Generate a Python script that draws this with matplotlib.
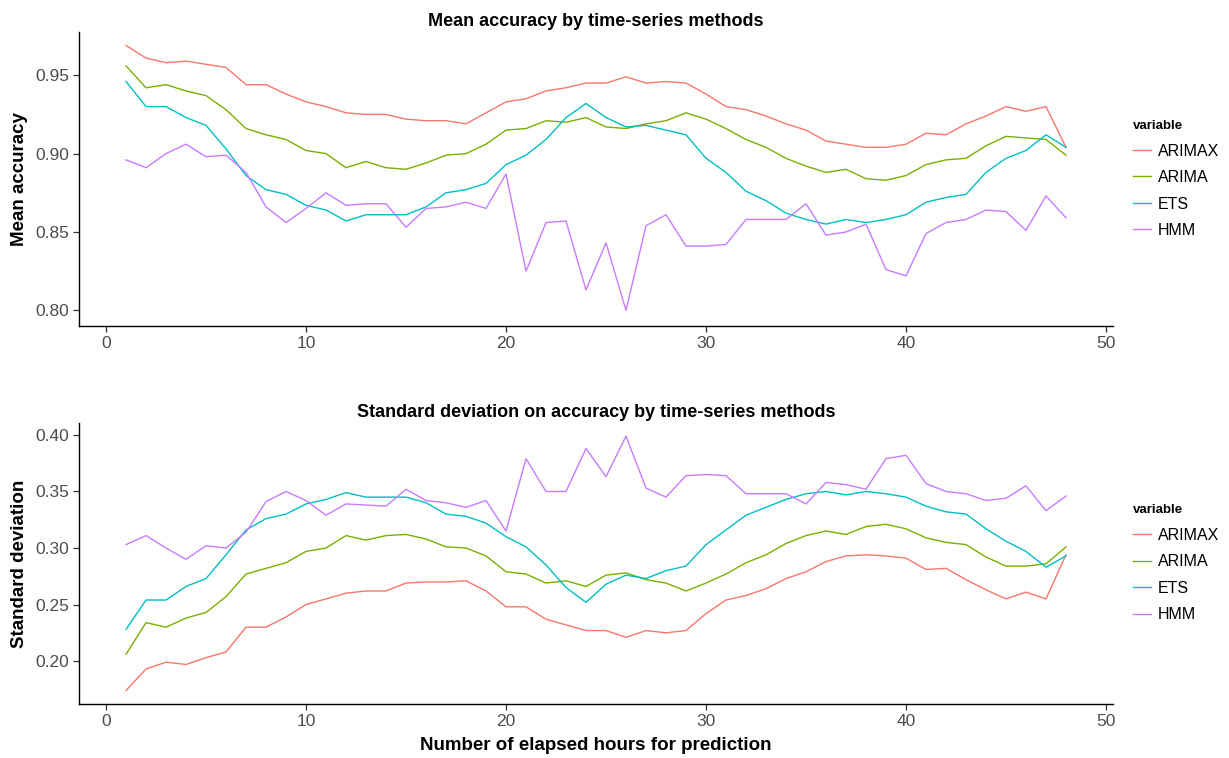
import numpy as np
import matplotlib
matplotlib.use("Agg")
import matplotlib.pyplot as plt

plt.rcParams["font.family"] = ["Liberation Sans", "DejaVu Sans"]

hours = np.arange(1, 49)
methods = ["ARIMAX", "ARIMA", "ETS", "HMM"]
colors = ["#F8766D", "#7CAE00", "#00BFC4", "#C77CFF"]

# mean accuracy per forecast horizon
mean_arimax = [0.969, 0.961, 0.958, 0.959, 0.957, 0.955, 0.944, 0.944, 0.938, 0.933,
               0.930, 0.926, 0.925, 0.925, 0.922, 0.921, 0.921, 0.919, 0.926, 0.933,
               0.935, 0.940, 0.942, 0.945, 0.945, 0.949, 0.945, 0.946, 0.945, 0.938,
               0.930, 0.928, 0.924, 0.919, 0.915, 0.908, 0.906, 0.904, 0.904, 0.906,
               0.913, 0.912, 0.919, 0.924, 0.930, 0.927, 0.930, 0.904]
mean_arima = [0.956, 0.942, 0.944, 0.940, 0.937, 0.928, 0.916, 0.912, 0.909, 0.902,
              0.900, 0.891, 0.895, 0.891, 0.890, 0.894, 0.899, 0.900, 0.906, 0.915,
              0.916, 0.921, 0.920, 0.923, 0.917, 0.916, 0.919, 0.921, 0.926, 0.922,
              0.916, 0.909, 0.904, 0.897, 0.892, 0.888, 0.890, 0.884, 0.883, 0.886,
              0.893, 0.896, 0.897, 0.905, 0.911, 0.910, 0.909, 0.899]
mean_ets = [0.946, 0.930, 0.930, 0.923, 0.918, 0.903, 0.886, 0.877, 0.874, 0.867,
            0.864, 0.857, 0.861, 0.861, 0.861, 0.866, 0.875, 0.877, 0.881, 0.893,
            0.899, 0.909, 0.923, 0.932, 0.923, 0.917, 0.918, 0.915, 0.912, 0.897,
            0.888, 0.876, 0.870, 0.862, 0.858, 0.855, 0.858, 0.856, 0.858, 0.861,
            0.869, 0.872, 0.874, 0.888, 0.897, 0.902, 0.912, 0.904]
mean_hmm = [0.896, 0.891, 0.900, 0.906, 0.898, 0.899, 0.888, 0.866, 0.856, 0.865,
            0.875, 0.867, 0.868, 0.868, 0.853, 0.865, 0.866, 0.869, 0.865, 0.887,
            0.825, 0.856, 0.857, 0.813, 0.843, 0.800, 0.854, 0.861, 0.841, 0.841,
            0.842, 0.858, 0.858, 0.858, 0.868, 0.848, 0.850, 0.855, 0.826, 0.822,
            0.849, 0.856, 0.858, 0.864, 0.863, 0.851, 0.873, 0.859]

# standard deviation per forecast horizon
sd_arimax = [0.174, 0.193, 0.199, 0.197, 0.203, 0.208, 0.230, 0.230, 0.239, 0.250,
             0.255, 0.260, 0.262, 0.262, 0.269, 0.270, 0.270, 0.271, 0.262, 0.248,
             0.248, 0.237, 0.232, 0.227, 0.227, 0.221, 0.227, 0.225, 0.227, 0.242,
             0.254, 0.258, 0.264, 0.273, 0.279, 0.288, 0.293, 0.294, 0.293, 0.291,
             0.281, 0.282, 0.272, 0.263, 0.255, 0.261, 0.255, 0.294]
sd_arima = [0.206, 0.234, 0.230, 0.238, 0.243, 0.257, 0.277, 0.282, 0.287, 0.297,
            0.300, 0.311, 0.307, 0.311, 0.312, 0.308, 0.301, 0.300, 0.293, 0.279,
            0.277, 0.269, 0.271, 0.266, 0.276, 0.278, 0.272, 0.269, 0.262, 0.269,
            0.277, 0.287, 0.294, 0.304, 0.311, 0.315, 0.312, 0.319, 0.321, 0.317,
            0.309, 0.305, 0.303, 0.292, 0.284, 0.284, 0.286, 0.301]
sd_ets = [0.228, 0.254, 0.254, 0.266, 0.273, 0.294, 0.316, 0.326, 0.330, 0.339,
          0.343, 0.349, 0.345, 0.345, 0.345, 0.340, 0.330, 0.328, 0.322, 0.310,
          0.301, 0.285, 0.265, 0.252, 0.268, 0.276, 0.273, 0.280, 0.284, 0.303,
          0.316, 0.329, 0.336, 0.343, 0.348, 0.350, 0.347, 0.350, 0.348, 0.345,
          0.337, 0.332, 0.330, 0.317, 0.306, 0.297, 0.283, 0.293]
sd_hmm = [0.303, 0.311, 0.300, 0.290, 0.302, 0.300, 0.314, 0.341, 0.350, 0.342,
          0.329, 0.339, 0.338, 0.337, 0.352, 0.342, 0.340, 0.336, 0.342, 0.315,
          0.379, 0.350, 0.350, 0.388, 0.363, 0.399, 0.353, 0.345, 0.364, 0.365,
          0.364, 0.348, 0.348, 0.348, 0.339, 0.358, 0.356, 0.352, 0.379, 0.382,
          0.357, 0.350, 0.348, 0.342, 0.344, 0.355, 0.333, 0.346]

panels = [
    ("Mean accuracy by time-series methods", "Mean accuracy",
     [mean_arimax, mean_arima, mean_ets, mean_hmm],
     [0.80, 0.85, 0.90, 0.95], [0.79, 0.9776]),
    ("Standard deviation on accuracy by time-series methods", "Standard deviation",
     [sd_arimax, sd_arima, sd_ets, sd_hmm],
     [0.20, 0.25, 0.30, 0.35, 0.40], [0.162, 0.4106]),
]

fig = plt.figure(figsize=(12.29, 7.58), dpi=100)
axes = [fig.add_axes([0.0643, 0.5699, 0.8413, 0.3879]),
        fig.add_axes([0.0643, 0.0712, 0.8413, 0.3708])]

for ax, (title, ylabel, series, yticks, ylim) in zip(axes, panels):
    for name, vals, c in zip(methods, series, colors):
        ax.plot(hours, vals, color=c, lw=1.0, label=name)
    ax.set_xlim(-1.35, 50.35)
    ax.set_ylim(*ylim)
    ax.set_xticks([0, 10, 20, 30, 40, 50])
    ax.set_yticks(yticks)
    ax.set_yticklabels([f"{t:.2f}" for t in yticks])
    for s in ["top", "right"]:
        ax.spines[s].set_visible(False)
    for s in ["left", "bottom"]:
        ax.spines[s].set_linewidth(1.0)
        ax.spines[s].set_color("black")
    ax.tick_params(length=4, width=0.9, color="#333333", labelcolor="#4D4D4D",
                   labelsize=12.5, pad=3)
    ax.set_title(title, fontsize=13, fontweight="bold", pad=4)
    ax.set_ylabel(ylabel, fontsize=13.5, fontweight="bold", labelpad=5)
    leg = ax.legend(title="variable", loc="center left", bbox_to_anchor=(1.019, 0.5),
                    frameon=False, fontsize=11.5, handlelength=1.15, handletextpad=0.45,
                    labelspacing=0.72, borderpad=0, borderaxespad=0,
                    alignment="left")
    leg.get_title().set_fontsize(9.5)
    leg.get_title().set_fontweight("bold")

axes[1].set_xlabel("Number of elapsed hours for prediction", fontsize=13.5,
                   fontweight="bold", labelpad=6)

fig.savefig("out.png", dpi=100)
